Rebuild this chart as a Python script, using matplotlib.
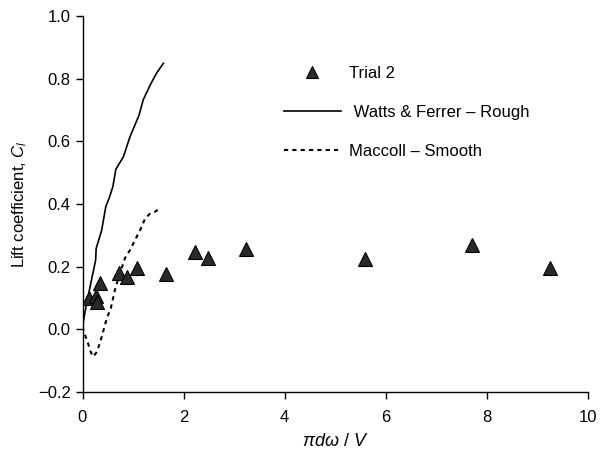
import matplotlib
matplotlib.use("Agg")
import matplotlib.pyplot as plt

plt.rcParams['font.family'] = ['Liberation Sans', 'DejaVu Sans']
plt.rcParams['mathtext.fontset'] = 'custom'
plt.rcParams['mathtext.rm'] = 'Liberation Sans'
plt.rcParams['mathtext.it'] = 'Liberation Sans:italic'

# Trial 2 measurements
trial_x = [0.13, 0.26, 0.28, 0.35, 0.72, 0.88, 1.07, 1.65, 2.22, 2.49, 3.23, 5.59, 7.70, 9.25]
trial_y = [0.100, 0.107, 0.086, 0.147, 0.179, 0.168, 0.196, 0.177, 0.246, 0.229, 0.256, 0.224, 0.268, 0.197]

# Watts & Ferrer - Rough
watts_x = [0.0, 0.05, 0.15, 0.26, 0.27, 0.38, 0.46, 0.53, 0.60, 0.66, 0.81, 0.94, 1.12, 1.20, 1.34, 1.47, 1.60]
watts_y = [0.008, 0.056, 0.136, 0.221, 0.258, 0.317, 0.391, 0.420, 0.455, 0.511, 0.551, 0.615, 0.684, 0.732, 0.780, 0.819, 0.849]

# Maccoll - Smooth
maccoll_x = [0.0, 0.05, 0.11, 0.16, 0.21, 0.29, 0.38, 0.48, 0.56, 0.64, 0.74, 0.84, 0.94, 1.04, 1.14, 1.24, 1.34, 1.43, 1.53]
maccoll_y = [0.008, -0.018, -0.045, -0.071, -0.087, -0.071, -0.024, 0.035, 0.067, 0.125, 0.179, 0.227, 0.253, 0.285, 0.317, 0.354, 0.370, 0.375, 0.386]

x_ticks = [0, 2, 4, 6, 8, 10]
y_ticks = [-0.2, 0.0, 0.2, 0.4, 0.6, 0.8, 1.0]

fig = plt.figure(figsize=(6.01, 4.57), dpi=100)
ax = fig.add_axes([82.5/601, (457-392)/457, (588-82.5)/601, (392-16)/457])

ax.plot(trial_x, trial_y, linestyle='none', marker='^', markersize=10,
        markerfacecolor='#2a2a2a', markeredgecolor='black', markeredgewidth=0.8,
        label='Trial 2', zorder=3)
ax.plot(watts_x, watts_y, color='black', linewidth=1.2, label=' Watts & Ferrer \u2013 Rough')
ax.plot(maccoll_x, maccoll_y, color='black', linewidth=1.5, linestyle=(0, (2, 2)),
        label='Maccoll \u2013 Smooth')

ax.set_xlim(0, 10)
ax.set_ylim(-0.2, 1.0)
ax.set_xticks(x_ticks)
ax.set_yticks(y_ticks)
ax.set_xticklabels([str(t) for t in x_ticks])
ax.set_yticklabels([('\u2212' if t < 0 else '') + f'{abs(t):.1f}' for t in y_ticks])
ax.tick_params(direction='out', length=5, width=1, labelsize=12, colors='black')
ax.tick_params(axis='x', pad=8)
for s in ['top', 'right']:
    ax.spines[s].set_visible(False)
for s in ['left', 'bottom']:
    ax.spines[s].set_linewidth(1)

ax.set_xlabel(r'$\pi d\omega\ /\ V$', fontsize=13, labelpad=6)
ax.set_ylabel(r'Lift coefficient, $C_l$', fontsize=12, labelpad=6)

leg = ax.legend(loc='upper left', bbox_to_anchor=(284/601, 1 - 66/457),
                bbox_transform=fig.transFigure, frameon=False, fontsize=12,
                handlelength=3.4, handletextpad=0.5, labelspacing=1.45,
                borderpad=0, borderaxespad=0, markerscale=0.8)

fig.savefig('out.png', dpi=100)
